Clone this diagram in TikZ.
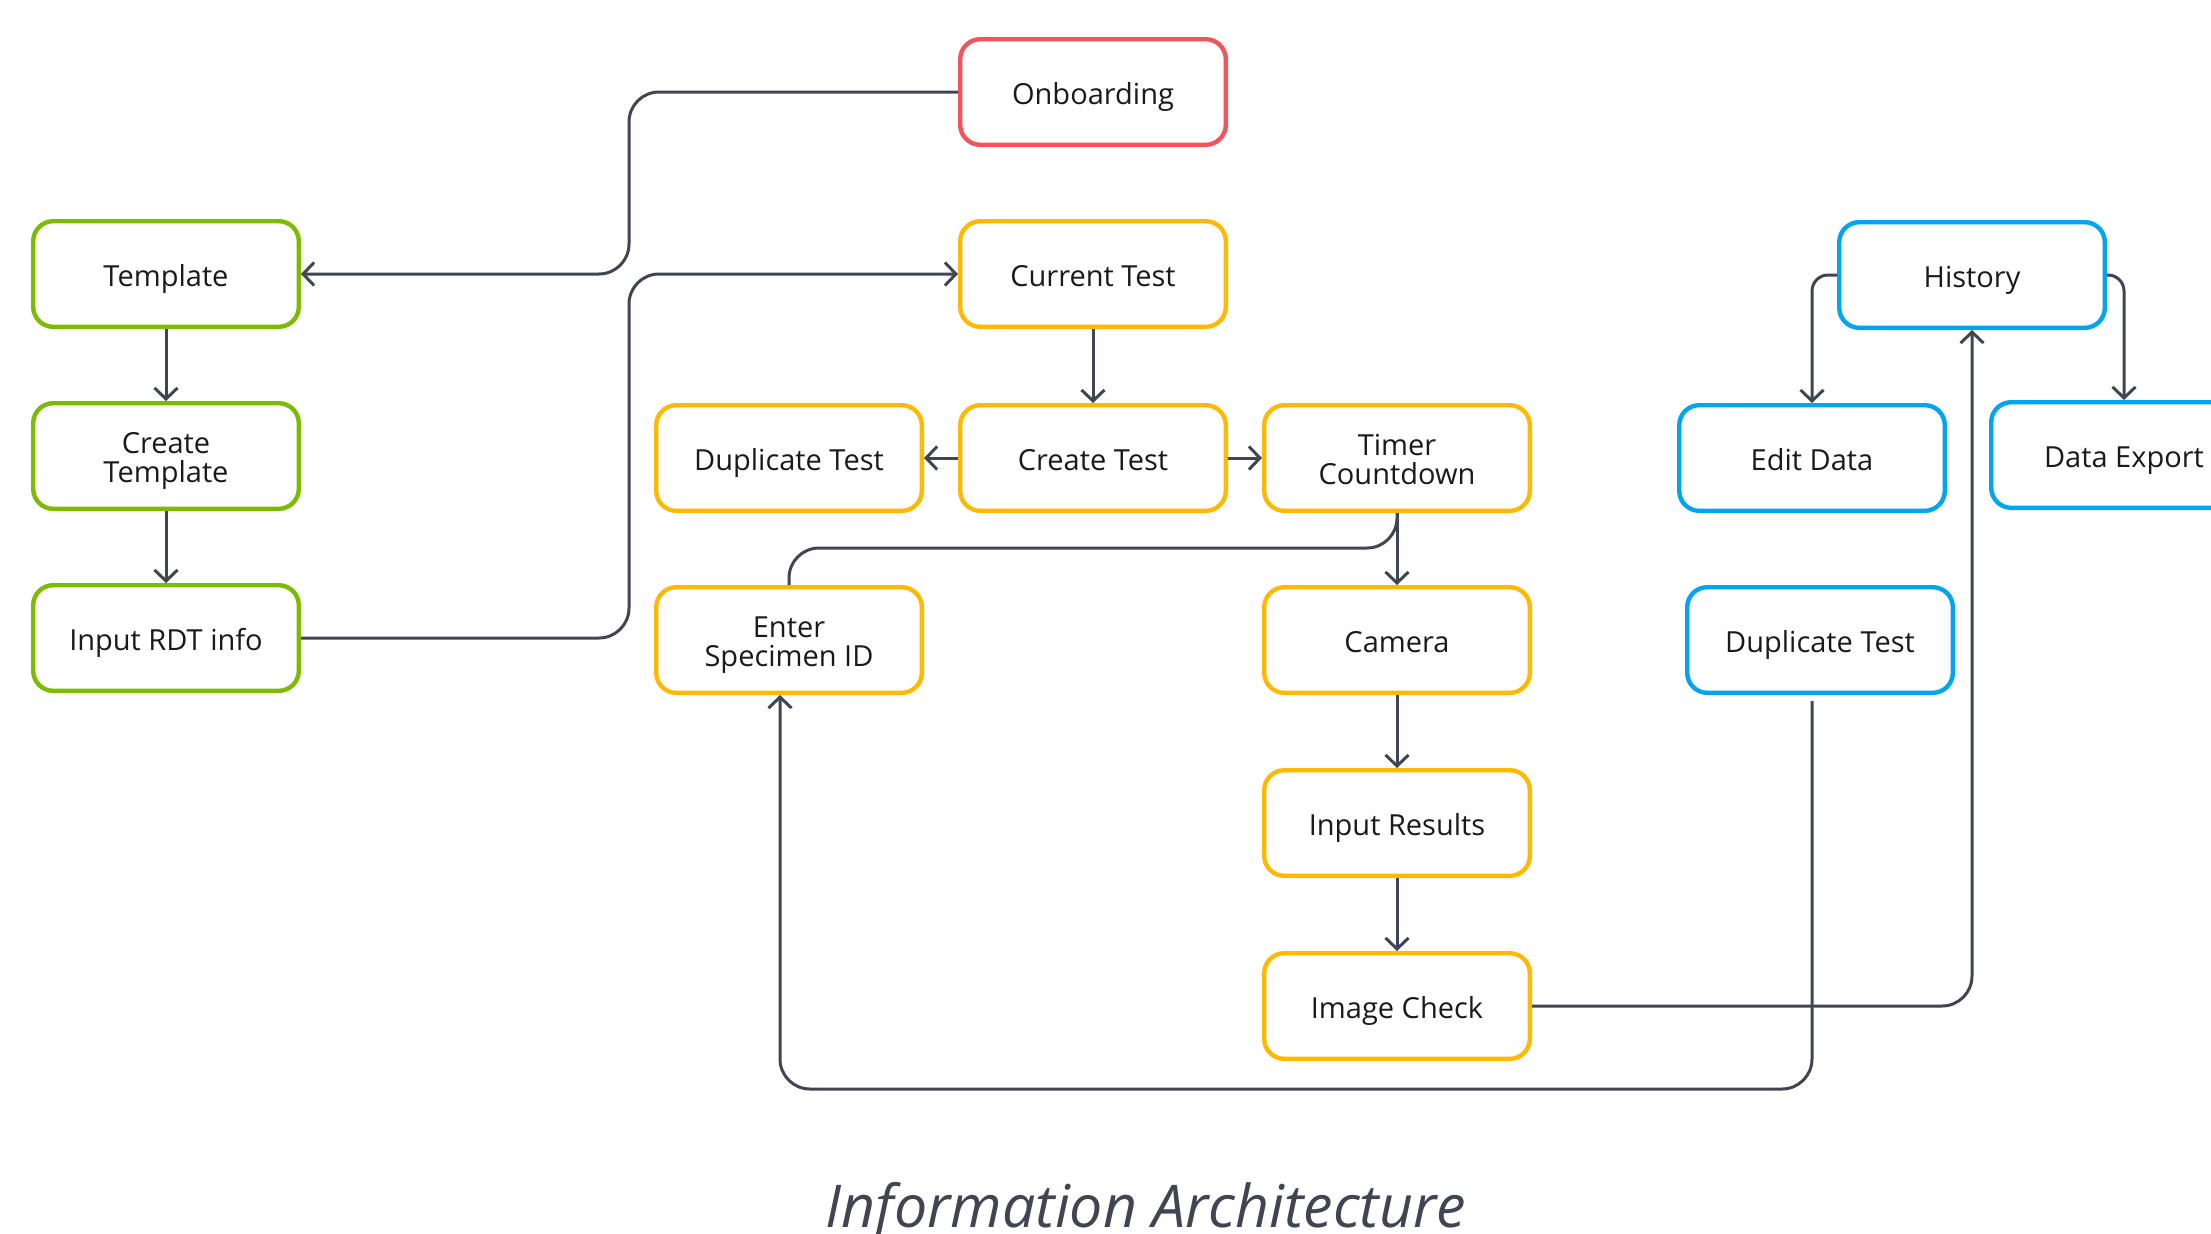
\documentclass[tikz,border=0pt]{standalone}
\usepackage{fontspec}
\setmainfont{Open Sans}
\usetikzlibrary{arrows.meta,calc}
\definecolor{cred}{HTML}{F2545B}
\definecolor{cgreen}{HTML}{7CBB00}
\definecolor{cyellow}{HTML}{FFB900}
\definecolor{cblue}{HTML}{00A4EF}
\definecolor{cline}{HTML}{3F4551}
\definecolor{ctext}{HTML}{1A1A1A}
\tikzset{
  box/.style={draw, line width=2.2pt, rounded corners=10pt, fill=white,
    minimum width=132.8pt, minimum height=52.8pt, align=center,
    text=ctext, font=\fontsize{14.5}{14.3}\selectfont, inner sep=2pt,
    text height=12pt, text depth=0pt},
  two/.style={text height=26.3pt, text depth=0pt},
  redbox/.style={box, draw=cred},
  greenbox/.style={box, draw=cgreen},
  yellowbox/.style={box, draw=cyellow},
  bluebox/.style={box, draw=cblue},
  conn/.style={draw=cline, line width=1.5pt, rounded corners=15pt},
  arr/.style={-{Straight Barb[length=5.5pt,width=11.5pt]}},
}
\begin{document}
\begin{tikzpicture}[x=0.5pt,y=-0.5pt]
\useasboundingbox (0,0) rectangle (2211,1233);
\clip (0,0) rectangle (2211,1233);
% nodes
\node[redbox] (onb) at (1093,92) {Onboarding};
\node[greenbox] (tpl) at (166,274) {Template};
\node[greenbox,two] (ctpl) at (166,456) {Create\\Template};
\node[greenbox] (rdt) at (166,638) {Input RDT info};
\node[yellowbox] (cur) at (1093,274) {Current Test};
\node[yellowbox] (dup) at (789,458) {Duplicate Test};
\node[yellowbox] (crt) at (1093,458) {Create Test};
\node[yellowbox,two] (tim) at (1397,458) {Timer\\Countdown};
\node[yellowbox,two] (ent) at (789,640) {Enter\\Specimen ID};
\node[yellowbox] (cam) at (1397,640) {Camera};
\node[yellowbox] (res) at (1397,823) {Input Results};
\node[yellowbox] (img) at (1397,1006) {Image Check};
\node[bluebox] (his) at (1972,275) {History};
\node[bluebox] (edit) at (1812,458) {Edit Data};
\node[bluebox] (exp) at (2124,455) {Data Export};
\node[bluebox] (dup2) at (1820,640) {Duplicate Test};
\node[text=cline, font=\fontsize{29.5}{30}\selectfont\itshape, anchor=base] (title) at (1146,1227) {Information Architecture};
% helper coordinates
\coordinate (busL) at (629,0);
\coordinate (bendT) at (0,548);
\coordinate (bendB) at (0,1089);
% connectors
\draw[conn,arr] (onb.west) -| (busL |- tpl.east) -- (tpl.east);
\draw[conn,arr] (rdt.east) -| (busL |- cur.west) -- (cur.west);
\draw[conn,arr] (tpl.south) -- (ctpl.north);
\draw[conn,arr] (ctpl.south) -- (rdt.north);
\draw[conn,arr] (cur.south) -- (crt.north);
\draw[conn,arr] (crt.west) -- (dup.east);
\draw[conn,arr] (crt.east) -- (tim.west);
\draw[conn,arr] (tim.south) -- (cam.north);
\draw[conn] (tim.south) |- (ent.north |- bendT) -- (ent.north);
\draw[conn,arr] (cam.south) -- (res.north);
\draw[conn,arr] (res.south) -- (img.north);
\draw[conn,arr] (img.east) -| (his.south);
\draw[conn,arr] ([xshift=-4pt,yshift=-3pt]dup2.south) |- ([xshift=-4.5pt]ent.south |- bendB) -- ([xshift=-4.5pt]ent.south);
\draw[conn,arr,rounded corners=8pt] (his.west) -| (edit.north);
\draw[conn,arr,rounded corners=8pt] (his.east) -| (exp.north);
\end{tikzpicture}
\end{document}
